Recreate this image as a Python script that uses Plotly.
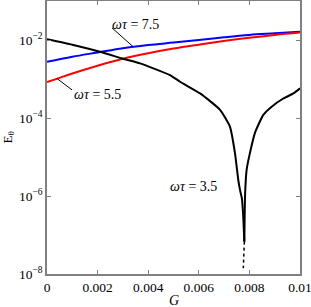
import plotly.graph_objects as go

# omega*tau = 3.5 (black): left branch down to the minimum, right branch up from it
g_35_left = [0, 0.001, 0.0022, 0.003, 0.00368, 0.00486, 0.00526, 0.00605, 0.00684,
             0.00723, 0.00743, 0.00756, 0.00763, 0.0077, 0.00775, 0.0078]
e_35_left = [-1.98, -2.12, -2.32, -2.48, -2.60, -2.90, -3.07, -3.37, -3.79,
             -4.22, -4.90, -5.59, -5.85, -6.05, -6.45, -7.17]
g_35_right = [0.0078, 0.00783, 0.00789, 0.00802, 0.00822, 0.00855, 0.00888, 0.00934,
              0.00974, 0.01]
e_35_right = [-7.17, -5.95, -5.33, -4.90, -4.38, -3.92, -3.71, -3.50, -3.37, -3.24]
# dotted tail below the minimum
g_35_tail = [0.0078, 0.00776]
e_35_tail = [-7.17, -7.85]

# omega*tau = 5.5 (red)
g_55 = [0, 0.0005, 0.001, 0.002, 0.003, 0.004, 0.005, 0.006, 0.0075, 0.009, 0.01]
e_55 = [-3.08, -2.97, -2.86, -2.66, -2.48, -2.34, -2.22, -2.12, -1.98, -1.87, -1.81]

# omega*tau = 7.5 (blue)
g_75 = [0, 0.001, 0.002, 0.003, 0.004, 0.005, 0.006, 0.007, 0.008, 0.009, 0.01]
e_75 = [-2.56, -2.43, -2.32, -2.21, -2.13, -2.065, -2.00, -1.93, -1.87, -1.83, -1.79]

x_ticks = [0, 0.002, 0.004, 0.006, 0.008, 0.01]
x_ticktext = ["0", "0.002", "0.004", "0.006", "0.008", "0.01"]
y_ticks = [1e-8, 1e-6, 1e-4, 1e-2]
y_ticktext = ["10<sup>−8</sup>", "10<sup>−6</sup>", "10<sup>−4</sup>", "10<sup>−2</sup>"]

labels = ["<i>ωτ</i> = 7.5", "<i>ωτ</i> = 5.5", "<i>ωτ</i> = 3.5"]
label_g = [0.00249, 0.00099, 0.00478]
label_e = [-1.60, -3.40, -5.76]
# leader lines: (g0, e0, g1, e1)
leaders = [(0.00257, -1.69, 0.0034, -2.17), (0.00099, -3.28, 0.0004, -2.99)]

FONT = "Liberation Serif, Times New Roman, serif"
fig = go.Figure()
fig.add_trace(go.Scatter(x=g_75, y=[10**v for v in e_75], mode="lines",
                         line=dict(color="#0000ff", width=2, shape="spline")))
fig.add_trace(go.Scatter(x=g_55, y=[10**v for v in e_55], mode="lines",
                         line=dict(color="#ff0000", width=2, shape="spline")))
fig.add_trace(go.Scatter(x=g_35_left, y=[10**v for v in e_35_left], mode="lines",
                         line=dict(color="#000000", width=2, shape="spline", smoothing=0.5)))
fig.add_trace(go.Scatter(x=g_35_right, y=[10**v for v in e_35_right], mode="lines",
                         line=dict(color="#000000", width=2, shape="spline", smoothing=0.5)))
fig.add_trace(go.Scatter(x=g_35_tail, y=[10**v for v in e_35_tail], mode="lines",
                         line=dict(color="#000000", width=1.5, dash="dot")))

for t, gx, ey in zip(labels, label_g, label_e):
    fig.add_annotation(x=gx, y=ey, text=t, showarrow=False, xanchor="left",
                       yanchor="middle", font=dict(family=FONT, size=14, color="black"))
for g0, e0, g1, e1 in leaders:
    fig.add_shape(type="line", x0=g0, y0=10**e0, x1=g1, y1=10**e1,
                  line=dict(color="black", width=1))

# axis titles
fig.add_annotation(xref="paper", yref="paper", x=0.5, y=0, yshift=-26, text="<i>G</i>",
                   showarrow=False, yanchor="middle",
                   font=dict(family=FONT, size=14, color="black"))
fig.add_annotation(xref="paper", yref="paper", x=0, y=0.5, xshift=-39, text="E<sub>θ</sub>",
                   showarrow=False, textangle=-90, xanchor="center",
                   font=dict(family=FONT, size=13, color="black"))

axis_common = dict(showline=True, linecolor="#808080", linewidth=1.5, mirror="ticks",
                   ticks="inside", ticklen=4, tickcolor="#808080", showgrid=False,
                   zeroline=False, automargin=False, ticklabeloverflow="allow",
                   tickfont=dict(family=FONT, size=13.5, color="black"))
fig.update_xaxes(range=[0, 0.0100001], tickvals=x_ticks, ticktext=x_ticktext, **axis_common)
fig.update_yaxes(type="log", range=[-8, -1], tickvals=y_ticks, ticktext=y_ticktext,
                 **axis_common)
fig.update_layout(width=311, height=307, margin=dict(l=47, r=11, t=1, b=33),
                  showlegend=False, plot_bgcolor="white", paper_bgcolor="white",
                  font=dict(family=FONT))
fig.write_html("out.html", config={"displayModeBar": False},
               post_script="document.body.style.margin='0';")
